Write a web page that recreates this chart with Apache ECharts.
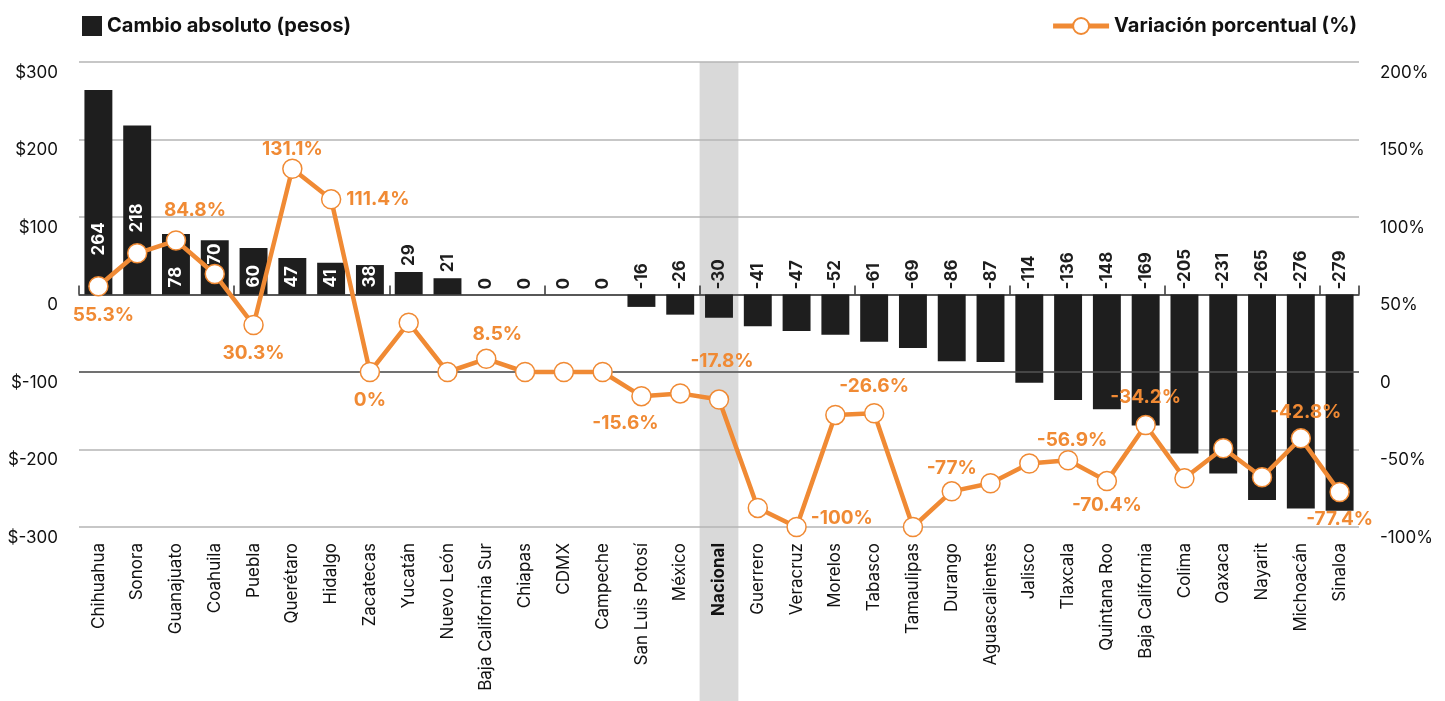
<!DOCTYPE html>
<html>
<head>
<meta charset="utf-8">
<script src="https://cdn.jsdelivr.net/npm/echarts@6/dist/echarts.min.js"></script>
<style>
  html, body { margin: 0; padding: 0; background: #fff; }
  #main { width: 1445px; height: 701px; }
</style>
</head>
<body>
<div id="main"></div>
<script>
var states = ['Chihuahua','Sonora','Guanajuato','Coahuila','Puebla','Querétaro','Hidalgo','Zacatecas','Yucatán','Nuevo León','Baja California Sur','Chiapas','CDMX','Campeche','San Luis Potosí','México','Nacional','Guerrero','Veracruz','Morelos','Tabasco','Tamaulipas','Durango','Aguascalientes','Jalisco','Tlaxcala','Quintana Roo','Baja California','Colima','Oaxaca','Nayarit','Michoacán','Sinaloa'];
var cambio = [264,218,78,70,60,47,41,38,29,21,0,0,0,0,-16,-26,-30,-41,-47,-52,-61,-69,-86,-87,-114,-136,-148,-169,-205,-231,-265,-276,-279];
var variacion = [55.3,76.6,84.8,63.2,30.3,131.1,111.4,0,31.8,0,8.5,0,0,0,-15.6,-13.8,-17.8,-87.7,-100,-27.7,-26.6,-100,-77,-71.8,-59,-56.9,-70.4,-34.2,-68.6,-49.2,-67.9,-42.8,-77.4];
var pesosTicks = { min: -300, max: 300, step: 100 };
var pctTicks = { min: -100, max: 200, step: 50 };

var orange = '#f08a34';
var dark = '#1e1e1e';
var font = 'Inter';

// where the inside labels of the positive bars sit (distance from the base)
var barLabelLift = { 'Chihuahua': 39, 'Sonora': 62, 'Coahuila': 30 };
// which percentage points get a label, and where
var pctLabelPlace = {
  'Chihuahua': { position: 'bottom', distance: 9, offset: [5, 0] },
  'Guanajuato': { position: 'top', distance: 11, offset: [19, 0] },
  'Puebla': { position: 'bottom', distance: 8 },
  'Querétaro': { position: 'top', distance: 0 },
  'Hidalgo': { position: 'right', distance: 5 },
  'Zacatecas': { position: 'bottom', distance: 9 },
  'Baja California Sur': { position: 'top', distance: 5, offset: [11, 0] },
  'San Luis Potosí': { position: 'bottom', distance: 7, offset: [-16, 0] },
  'Nacional': { position: 'top', distance: 19, offset: [3, 0] },
  'Veracruz': { position: 'right', distance: 4, offset: [0, -9] },
  'Tabasco': { position: 'top', distance: 7 },
  'Durango': { position: 'top', distance: 3 },
  'Tlaxcala': { position: 'top', distance: 0, offset: [4, 0] },
  'Quintana Roo': { position: 'bottom', distance: 4 },
  'Baja California': { position: 'top', distance: 8 },
  'Michoacán': { position: 'top', distance: 6, offset: [5, 0] },
  'Sinaloa': { position: 'bottom', distance: 8 }
};

var barData = cambio.map(function (v, i) {
  var label;
  if (v >= 35) {
    label = { position: 'insideBottom', distance: barLabelLift[states[i]] || 7, color: '#fff' };
  } else {
    label = { position: 'top', distance: v > 0 ? 6 : 5, color: dark };
  }
  return { value: v, label: label };
});

var lineData = variacion.map(function (v, i) {
  var p = pctLabelPlace[states[i]];
  if (!p) return { value: v, label: { show: false } };
  return { value: v, label: { show: true, position: p.position, distance: p.distance, offset: p.offset || [0, 0] } };
});

var chart = echarts.init(document.getElementById('main'));
var option = {
  animation: false,
  textStyle: { fontFamily: font },
  legend: [
    {
      data: [{ name: 'Cambio absoluto (pesos)', icon: 'rect' }],
      left: 77, top: 11, itemWidth: 20, itemHeight: 20, itemGap: 8,
      textStyle: { fontFamily: font, fontSize: 20, fontWeight: 'bold', color: '#111' }
    },
    {
      data: ['Variación porcentual (%)'],
      right: 83, top: 11, itemWidth: 56, itemHeight: 20, itemGap: 12,
      lineStyle: { width: 5, color: orange },
      textStyle: { fontFamily: font, fontSize: 20, fontWeight: 'bold', color: '#111' }
    }
  ],
  grid: { left: 79, right: 86, top: 62, bottom: 174 },
  xAxis: [
    {
      type: 'category', data: states,
      axisLine: { show: false, onZero: false },
      axisTick: { show: false },
      axisLabel: {
        rotate: 90, margin: 16, fontSize: 17, color: '#111', fontFamily: font,
        formatter: function (v) { return v === 'Nacional' ? '{b|' + v + '}' : v; },
        rich: { b: { fontWeight: 'bold', fontSize: 17, fontFamily: font, color: '#111' } }
      }
    },
    {
      type: 'category', data: states, position: 'bottom',
      axisLine: { show: true, onZero: true, onZeroAxisIndex: 0, lineStyle: { color: '#333', width: 1.5 } },
      axisTick: { show: true, inside: true, length: 9, lineStyle: { color: '#333', width: 1.5 } },
      axisLabel: { show: false }
    }
  ],
  yAxis: [
    {
      type: 'value', min: pesosTicks.min, max: pesosTicks.max, interval: pesosTicks.step,
      axisLine: { show: false }, axisTick: { show: false },
      splitLine: { lineStyle: { color: '#b5b5b5', width: 1.5 } },
      axisLabel: {
        margin: 21, fontSize: 17, color: '#111', verticalAlign: 'top', padding: [2, 0, 0, 0],
        formatter: function (v) { return v === 0 ? '0' : '$' + v; }
      }
    },
    {
      type: 'value', min: pctTicks.min, max: pctTicks.max, interval: pctTicks.step,
      axisLine: { show: false }, axisTick: { show: false },
      splitLine: { show: false },
      axisLabel: {
        margin: 21, fontSize: 17, color: '#111', verticalAlign: 'top', padding: [2, 0, 0, 0],
        formatter: function (v) { return v === 0 ? '0' : v + '%'; }
      }
    }
  ],
  series: [
    {
      name: 'Cambio absoluto (pesos)',
      type: 'bar', xAxisIndex: 0, yAxisIndex: 0,
      barWidth: '72%',
      itemStyle: { color: dark },
      label: {
        show: true, rotate: 90, align: 'left', verticalAlign: 'middle',
        fontSize: 17, fontWeight: 'bold', fontFamily: font
      },
      data: barData
    },
    {
      name: 'Variación porcentual (%)',
      type: 'line', xAxisIndex: 0, yAxisIndex: 1, z: 5,
      symbol: 'circle', symbolSize: 19,
      lineStyle: { color: orange, width: 4.5 },
      itemStyle: { color: '#fff', borderColor: orange, borderWidth: 1.5 },
      label: {
        color: orange, fontSize: 19, fontWeight: 'bold', fontFamily: font,
        formatter: function (p) { return p.value + '%'; }
      },
      markLine: {
        silent: true, symbol: 'none', label: { show: false },
        lineStyle: { color: '#555', width: 1.5, type: 'solid' },
        data: [{ yAxis: 0 }]
      },
      data: lineData
    }
  ]
};
chart.setOption(option);

var i = states.indexOf('Nacional');
var cx = chart.convertToPixel({ xAxisIndex: 0 }, i);
var w = chart.convertToPixel({ xAxisIndex: 0 }, 1) - chart.convertToPixel({ xAxisIndex: 0 }, 0);
chart.setOption({
  graphic: [{
    type: 'rect', z: -1,
    shape: { x: cx - w / 2, y: 62, width: w, height: 701 - 62 },
    style: { fill: '#d9d9d9' }
  }]
});
</script>
</body>
</html>
